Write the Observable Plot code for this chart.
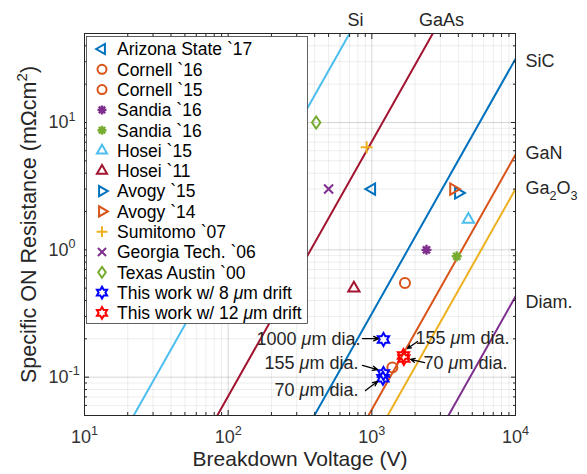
<!DOCTYPE html>
<html><head><meta charset="utf-8">
<script src="https://cdn.jsdelivr.net/npm/d3@7"></script>
<script src="https://cdn.jsdelivr.net/npm/@observablehq/plot@0.6"></script>
<style>
body{margin:0;background:#fff;}
svg{font-family:"Liberation Sans",Arial,Helvetica,sans-serif;}
</style>
</head><body><div id="chart"></div>
<script>
// ---------------- data ----------------
const seriesNames = ["Arizona State `17","Cornell `16","Cornell `15","Sandia `16","Sandia `16","Hosei `15","Hosei `11","Avogy `15","Avogy `14","Sumitomo `07","Georgia Tech. `06","Texas Austin `00","This work w/ 8 μm drift","This work w/ 12 μm drift"];
const seriesVoltage = [[1000],[1700],[1390],[2400],[3900],[4700],[750],[4000],[3700],[920],[500],[410],[1205,1205,1195],[1660,1670]];
const seriesRon = [[3.0],[0.55],[0.119],[1.0],[0.89],[1.73],[0.5],[2.8],[3.0],[6.4],[3.0],[10],[0.198,0.107,0.098],[0.148,0.140]];

const materials = ["Si","GaAs","SiC","GaN","Ga_2O_3","Diam."];
const limitStartV = [22, 84, 398, 947, 1290, 3414];
const limitStartR = [0.05, 0.05, 0.05, 0.05, 0.05, 0.05];
const limitEndV = [700, 2656, 10000, 10000, 10000, 10000];
const limitEndR = [50, 50, 31.6, 5.58, 3.0, 0.43];
const materialLabelV = [769, 3055, 10000, 10000, 10000, 10000];
const materialLabelR = [50, 50, 30.1, 5.71, 3.03, 0.386];

const annoText = ["1000 μm dia.","155 μm dia.","70 μm dia.","155 μm dia.","70 μm dia."];
const annoTextV = [834, 807, 807, 2014, 2291];
const annoTextR = [0.198, 0.128, 0.0786, 0.201, 0.128];
const arrowFromV = [861, 861, 903, 2080, 2328];
const arrowFromR = [0.201, 0.1236, 0.0786, 0.1905, 0.130];
const arrowToV = [1112, 1094, 1094, 1771, 1858];
const arrowToR = [0.201, 0.1148, 0.0925, 0.168, 0.138];

const xDomain = [10, 10000];
const yDomain = [0.05, 50];
const xMajor = [10, 100, 1000, 10000];
const xTickLabels = ["10^1","10^2","10^3","10^4"];
const yMajor = [0.1, 1, 10];
const yTickLabels = ["10^{-1}","10^0","10^1"];
const xLabel = "Breakdown Voltage (V)";
const yLabel = "Specific ON Resistance (mΩcm^2)";

// ---------------- styles ----------------
const seriesColor = ["#0072BD","#D95319","#D95319","#7E2F8E","#77AC30","#4DBEEE","#A2142F","#0072BD","#D95319","#EDB120","#7E2F8E","#77AC30","#0000FF","#FF0000"];
const seriesSymbol = ["triLeft","circle","circle","asterisk","asterisk","triUp","triUp","triRight","triRight","plus","times","diamond","hexagram","hexagram"];
const materialColor = ["#4DBEEE","#A2142F","#0072BD","#D95319","#EDB120","#7E2F8E"];

const rad = s => Math.sqrt(s / Math.PI);
const symbols = {
  triLeft: {draw(c, s){const r = rad(s); c.moveTo(-r,0); c.lineTo(r*0.5,-r*0.866); c.lineTo(r*0.5,r*0.866); c.closePath();}},
  triRight: {draw(c, s){const r = rad(s); c.moveTo(r,0); c.lineTo(-r*0.5,-r*0.866); c.lineTo(-r*0.5,r*0.866); c.closePath();}},
  triUp: {draw(c, s){const r = rad(s); c.moveTo(0,-r); c.lineTo(r*0.866,r*0.5); c.lineTo(-r*0.866,r*0.5); c.closePath();}},
  circle: {draw(c, s){const r = rad(s); c.moveTo(r,0); c.arc(0,0,r,0,2*Math.PI); c.closePath();}},
  asterisk: {draw(c, s){const r = rad(s); for (let k=0;k<4;k++){const a=k*Math.PI/4; c.moveTo(r*Math.cos(a), r*Math.sin(a)); c.lineTo(-r*Math.cos(a), -r*Math.sin(a));}}},
  plus: {draw(c, s){const r = rad(s); c.moveTo(-r,0); c.lineTo(r,0); c.moveTo(0,-r); c.lineTo(0,r);}},
  times: {draw(c, s){const r = rad(s); c.moveTo(-r,-r); c.lineTo(r,r); c.moveTo(r,-r); c.lineTo(-r,r);}},
  diamond: {draw(c, s){const r = rad(s); c.moveTo(0,-r); c.lineTo(r*0.7,0); c.lineTo(0,r); c.lineTo(-r*0.7,0); c.closePath();}},
  hexagram: {draw(c, s){const r = rad(s); for (let k=0;k<12;k++){const a=-Math.PI/2 + k*Math.PI/6; const rr = k%2 ? r*0.577 : r; const px=rr*Math.cos(a), py=rr*Math.sin(a); if(k===0) c.moveTo(px,py); else c.lineTo(px,py);} c.closePath();}}
};
const symbolR = {triLeft:6.5, triRight:6.5, triUp:6.5, circle:5, asterisk:5, plus:6, times:4.5, diamond:6, hexagram:6.5};
const symbolW = {asterisk:2.4};

// ---------------- build tables ----------------
const points = seriesNames.flatMap((name, i) => seriesVoltage[i].map((v, j) => ({series: i, V: v, R: seriesRon[i][j]})));
const limitLines = materials.flatMap((m, i) => [
  {m: i, V: limitStartV[i], R: limitStartR[i]},
  {m: i, V: limitEndV[i], R: limitEndR[i]}
]);
const matLabels = materials.map((m, i) => ({name: m, V: materialLabelV[i], R: materialLabelR[i], top: i < 2}));
const annos = annoText.map((t, i) => ({t, V: annoTextV[i], R: annoTextR[i], left: annoTextV[i] < arrowToV[i]}));
const arrows = arrowFromV.map((v, i) => ({x1: v, y1: arrowFromR[i], x2: arrowToV[i], y2: arrowToR[i]}));

const xMinor = d3.scaleLog().domain(xDomain).ticks().filter(d => !xMajor.some(m => Math.abs(m - d) < 1e-9));
const yMinor = d3.scaleLog().domain(yDomain).ticks().filter(d => !yMajor.some(m => Math.abs(m - d) < 1e-9));

const txt = "#262626";
const marks = [
  Plot.gridX(xMinor, {stroke: "#000", strokeOpacity: 0.07}),
  Plot.gridY(yMinor, {stroke: "#000", strokeOpacity: 0.07}),
  Plot.gridX(xMajor, {stroke: "#000", strokeOpacity: 0.16}),
  Plot.gridY(yMajor, {stroke: "#000", strokeOpacity: 0.16}),
  ...materials.map((m, i) => Plot.line(limitLines.filter(d => d.m === i), {x: "V", y: "R", stroke: materialColor[i], strokeWidth: 2, clip: true})),
  ...seriesNames.map((n, i) => Plot.dot(points.filter(d => d.series === i), {
    x: "V", y: "R", symbol: symbols[seriesSymbol[i]], r: symbolR[seriesSymbol[i]],
    stroke: seriesColor[i], fill: "none", strokeWidth: symbolW[seriesSymbol[i]] || 2
  })),
  Plot.arrow(arrows, {x1: "x1", y1: "y1", x2: "x2", y2: "y2", stroke: "#000", strokeWidth: 1.3, headLength: 7, headAngle: 50}),
  Plot.text(annos.filter(d => d.left), {x: "V", y: "R", text: "t", textAnchor: "end", fontSize: 18, fill: txt}),
  Plot.text(annos.filter(d => !d.left), {x: "V", y: "R", text: "t", textAnchor: "start", fontSize: 18, fill: txt}),
  Plot.text(matLabels.filter(d => d.top), {x: "V", y: "R", text: "name", dy: -13, textAnchor: "middle", fontSize: 18, fill: txt}),
  Plot.text(matLabels.filter(d => !d.top), {x: "V", y: "R", text: "name", dx: 10, textAnchor: "start", fontSize: 18, fill: txt}),
  // inward ticks on all four sides
  Plot.axisX(xMajor, {anchor: "bottom", tickSize: -5, fill: "none", label: null, stroke: txt}),
  Plot.axisX(xMajor, {anchor: "top", tickSize: -5, fill: "none", label: null, stroke: txt}),
  Plot.axisX(xMinor, {anchor: "bottom", tickSize: -3, fill: "none", label: null, stroke: txt}),
  Plot.axisX(xMinor, {anchor: "top", tickSize: -3, fill: "none", label: null, stroke: txt}),
  Plot.axisY(yMajor, {anchor: "left", tickSize: -5, fill: "none", label: null, stroke: txt}),
  Plot.axisY(yMajor, {anchor: "right", tickSize: -5, fill: "none", label: null, stroke: txt}),
  Plot.axisY(yMinor, {anchor: "left", tickSize: -3, fill: "none", label: null, stroke: txt}),
  Plot.axisY(yMinor, {anchor: "right", tickSize: -3, fill: "none", label: null, stroke: txt}),
  Plot.frame({stroke: txt, strokeWidth: 1}),
  Plot.text(xMajor, {x: d => d, text: (d, i) => xTickLabels[i], frameAnchor: "bottom", dy: 27, textAnchor: "middle", fontSize: 18, fill: "#333"}),
  Plot.text(yMajor, {y: d => d, text: (d, i) => yTickLabels[i], frameAnchor: "left", dx: -36, textAnchor: "start", fontSize: 18, fill: "#333"}),
  Plot.text([xLabel], {text: d => d, frameAnchor: "bottom", dy: 50, textAnchor: "middle", fontSize: 21, fill: txt}),
  Plot.text([yLabel], {text: d => d, frameAnchor: "left", dx: -55, rotate: -90, textAnchor: "middle", fontSize: 21.5, fill: txt})
];

const chart = Plot.plot({
  width: 587, height: 474,
  marginLeft: 84, marginRight: 72, marginTop: 33, marginBottom: 59,
  x: {type: "log", domain: xDomain},
  y: {type: "log", domain: yDomain},
  style: {fontFamily: '"Liberation Sans",Arial,Helvetica,sans-serif', background: "#fff", color: txt},
  marks
});
document.getElementById("chart").appendChild(chart);

// ---------------- legend (inside plot, upper-left) ----------------
const svg = d3.select(chart.tagName.toLowerCase() === "svg" ? chart : chart.querySelector("svg"));
const lg = svg.append("g").attr("font-size", 17.5).attr("fill", "#000").attr("text-anchor", "start");
lg.append("rect").attr("x", 86.5).attr("y", 36.5).attr("width", 221).attr("height", 287)
  .attr("fill", "#fff").attr("stroke", "#3a3a3a").attr("stroke-width", 0.8);
seriesNames.forEach((name, i) => {
  const y = 49 + i * 20.3;
  const key = seriesSymbol[i];
  const r = symbolR[key] * 0.9;
  const p = d3.path();
  symbols[key].draw(p, Math.PI * r * r);
  lg.append("path").attr("transform", `translate(102,${y})`).attr("d", p.toString())
    .attr("fill", "none").attr("stroke", seriesColor[i]).attr("stroke-width", symbolW[key] || 2);
  lg.append("text").attr("x", 117).attr("y", y).attr("dy", "0.36em").attr("text-anchor", "start").text(name);
});

// ---------------- rich text: ^sup, _sub, italic μ ----------------
const NS = "http://www.w3.org/2000/svg";
function richify(el) {
  const s = el.textContent;
  if (!/[\^_μ]/.test(s) || el.children.length) return;
  const parts = [];
  let i = 0;
  while (i < s.length) {
    const ch = s[i];
    if (ch === "^" || ch === "_") {
      let t;
      if (s[i + 1] === "{") { const k = s.indexOf("}", i); t = s.slice(i + 2, k); i = k + 1; }
      else { t = s[i + 1]; i += 2; }
      parts.push({t, mode: ch === "^" ? "sup" : "sub"});
    } else if (ch === "μ") { parts.push({t: "μ", mode: "ital"}); i++; }
    else { let j = i; while (j < s.length && !"^_μ".includes(s[j])) j++; parts.push({t: s.slice(i, j), mode: "n"}); i = j; }
  }
  el.textContent = "";
  let shift = 0;
  for (const p of parts) {
    const ts = document.createElementNS(NS, "tspan");
    ts.textContent = p.t;
    const target = p.mode === "sup" ? -0.42 : p.mode === "sub" ? 0.32 : 0;
    const d = target - shift; shift = target;
    if (p.mode === "sup" || p.mode === "sub") { ts.setAttribute("font-size", "70%"); ts.setAttribute("dy", (d / 0.7).toFixed(3) + "em"); }
    else { if (d) ts.setAttribute("dy", d.toFixed(3) + "em"); if (p.mode === "ital") ts.setAttribute("font-style", "italic"); }
    el.appendChild(ts);
  }
}
svg.selectAll("text").each(function() { richify(this); });
</script>
</body></html>
